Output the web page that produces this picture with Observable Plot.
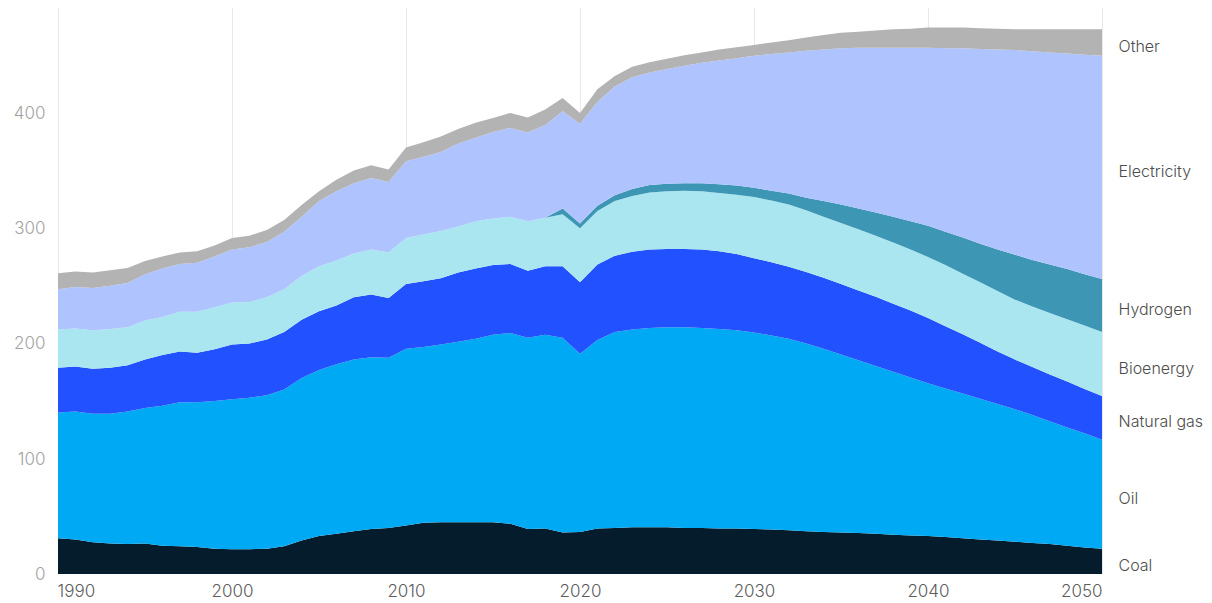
<!DOCTYPE html>
<html>
<head>
<meta charset="utf-8">
<script src="https://cdn.jsdelivr.net/npm/d3@7"></script>
<script src="https://cdn.jsdelivr.net/npm/@observablehq/plot@0.6"></script>
<style>
  html, body { margin: 0; padding: 0; background: #ffffff; }
  #chart { width: 1212px; height: 603px; overflow: hidden; }
</style>
</head>
<body>
<div id="chart"></div>
<script>
const years = d3.range(1990, 2051);

const seriesNames = ["Coal", "Oil", "Natural gas", "Bioenergy", "Hydrogen", "Electricity", "Other"];
const seriesColors = ["#051c2c", "#00a9f4", "#2251ff", "#aae6f0", "#3c96b4", "#afc3ff", "#b3b3b3"];

const coal = [31, 30, 27.5, 26.5, 26, 26.5, 24.5, 24, 23.5, 22,
  21.5, 21.5, 22, 24, 29, 33, 35, 37, 39, 40,
  42, 44.5, 45, 45, 45, 45, 43.5, 39, 39.5, 36,
  36.5, 39.5, 40, 40.5, 40.5, 40.5, 40, 40, 39.5, 39.5,
  39, 38.5, 38, 37, 36.5, 36, 35.5, 35, 34, 33.5,
  33, 32, 31, 30, 29, 28, 27, 26, 24.5, 23,
  22];
const oil = [109, 111, 111.5, 112.5, 115, 117.5, 121.5, 125, 125.5, 128,
  130, 131.5, 133, 136, 141, 144, 147, 149, 149, 147.5,
  153.5, 152.5, 154, 156.5, 159, 162.5, 165.5, 166, 168, 169,
  154.5, 163.5, 170, 171.5, 173, 173.5, 174, 173.5, 173, 172,
  170.5, 168.5, 166, 163, 159, 154.5, 150, 145.5, 141.5, 137,
  132.5, 129, 125.5, 122, 118.5, 115, 111, 106.5, 102.5, 99,
  94.5];
const naturalGas = [39, 39, 39, 40, 40, 42, 44, 44, 43, 45,
  47.5, 47, 48.5, 50, 50.5, 51, 51, 54, 54.5, 52,
  56, 57, 57.5, 60, 61, 60.5, 60, 58, 59.5, 62,
  62, 65.5, 66, 67.5, 68, 68, 68, 68, 67.5, 66,
  64.5, 63.5, 62.5, 62, 61.5, 61, 60.5, 60, 59, 58,
  56.5, 54, 51.5, 48.5, 45.5, 43, 41.5, 40.5, 40, 38.5,
  38];
const bioenergy = [33, 33, 33.5, 33.5, 33, 34, 33, 34.5, 35.5, 36.5,
  36.5, 36, 36.5, 37, 38, 39, 39, 38, 39, 39.5,
  40, 40.5, 41, 40, 41, 40.5, 41, 43, 42, 45,
  47, 46.5, 47.5, 48.5, 49.5, 50, 50.5, 50.5, 50.5, 51.5,
  53, 53.5, 54, 53.5, 53, 53, 53, 53, 53, 53,
  53, 53, 52.5, 52.5, 52.5, 52, 52.5, 53.5, 54, 55,
  55.5];
const hydrogen = [0, 0, 0, 0, 0, 0, 0, 0, 0, 0,
  0, 0, 0, 0, 0, 0, 0, 0, 0, 0,
  0, 0, 0, 0, 0, 0, 0, 0, 0, 5,
  4, 4.5, 5, 6, 6.5, 6.5, 6.5, 7, 7.5, 8,
  8, 8.5, 9.5, 11, 13.5, 16, 18, 20, 22.5, 24.5,
  27, 29, 31.5, 33.5, 36, 39, 40.5, 42, 43.5, 44.5,
  46];
const electricity = [35, 36, 36.5, 37.5, 38.5, 40, 42, 41.5, 42.5, 44,
  46, 47.5, 48, 50, 51.5, 56.5, 60, 61, 62, 61,
  66.5, 67.5, 68.5, 72, 72.5, 75, 77, 77, 80.5, 84.5,
  86.5, 90, 94.5, 97, 97.5, 99.5, 102, 104.5, 107.5, 110.5,
  114.5, 118.5, 122.5, 127.5, 131.5, 135.5, 139.5, 143, 146.5, 150.5,
  154.5, 159, 164, 169, 173.5, 177.5, 181, 184, 187, 190.5,
  193.5];
const other = [14, 13.5, 13.5, 13.5, 13, 11.5, 10.5, 10, 10, 9.5,
  10, 10, 10.5, 10, 10, 8.5, 10, 11, 11, 11,
  12, 12.5, 13.5, 12.5, 13, 12, 13, 13, 13.5, 11.5,
  9.5, 11, 9, 9, 9, 9, 9, 9, 9.5, 9.5,
  9.5, 10, 10.5, 11.5, 12.5, 13.5, 14, 15, 16, 16.5,
  17.5, 18, 18, 18, 18, 18, 19, 20, 21, 22,
  23];

const xTicks = [1990, 2000, 2010, 2020, 2030, 2040, 2050];
const yTicks = [0, 100, 200, 300, 400];

const seriesValues = [coal, oil, naturalGas, bioenergy, hydrogen, electricity, other];
const data = [];
seriesNames.forEach((name, i) => {
  years.forEach((year, j) => {
    data.push({ year, series: name, value: seriesValues[i][j] });
  });
});
const lastYear = years[years.length - 1];
const lastData = data.filter(d => d.year === lastYear);

const font = "Inter, 'Noto Sans', sans-serif";

const chart = Plot.plot({
  width: 1212,
  height: 603,
  marginLeft: 58,
  marginRight: 110,
  marginTop: 8,
  marginBottom: 29,
  style: { background: "#ffffff", fontFamily: font },
  x: { domain: [1990, 2050], axis: null },
  y: { domain: [0, 491], axis: null },
  color: { domain: seriesNames, range: seriesColors },
  marks: [
    Plot.ruleX(xTicks, { stroke: "#e8e8e8", strokeWidth: 1 }),
    Plot.areaY(data, {
      x: "year", y: "value", z: "series", fill: "series",
      order: seriesNames
    }),
    Plot.text(yTicks, {
      x: 1990, y: d => d, text: d => String(d),
      textAnchor: "end", dx: -13, fill: "#a3a3a3", fontSize: 17, fontWeight: 300
    }),
    Plot.text(xTicks.filter(t => t === 1990), {
      x: d => d, y: 0, text: d => String(d),
      textAnchor: "start", dx: -1, dy: 17, fill: "#5c5c5c", fontSize: 17, fontWeight: 300
    }),
    Plot.text(xTicks.filter(t => t > 1990 && t < 2050), {
      x: d => d, y: 0, text: d => String(d),
      textAnchor: "middle", dy: 17, fill: "#5c5c5c", fontSize: 17, fontWeight: 300
    }),
    Plot.text(xTicks.filter(t => t === 2050), {
      x: d => d, y: 0, text: d => String(d),
      textAnchor: "end", dy: 17, fill: "#5c5c5c", fontSize: 17, fontWeight: 300
    }),
    Plot.text(lastData, Plot.stackY({
      x: "year", y: "value", z: "series", order: seriesNames,
      text: "series", textAnchor: "start", dx: 16, dy: 4,
      fill: "#4d4d4d", fontSize: 16, fontWeight: 300
    }))
  ]
});

document.getElementById("chart").appendChild(chart);
</script>
</body>
</html>
